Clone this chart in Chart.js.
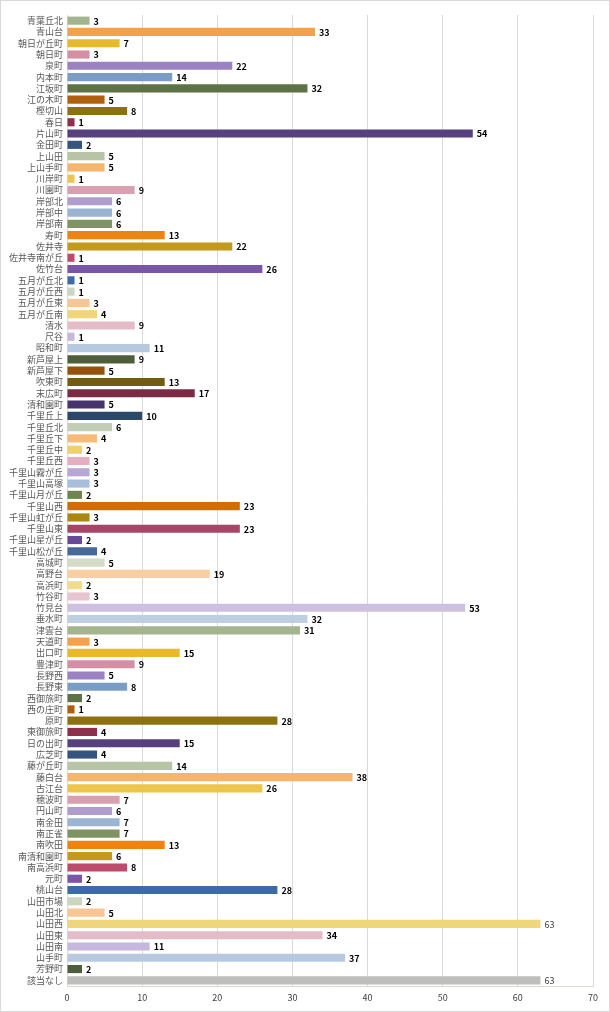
<!DOCTYPE html>
<html>
<head>
<meta charset="utf-8">
<script src="https://cdn.jsdelivr.net/npm/chart.js@4.4.1/dist/chart.umd.min.js"></script>
<style>
  body { margin: 0; background: #fff; }
  #wrap { width: 610px; height: 1012px; box-sizing: border-box; border: 1px solid #d9d9d9; position: relative; }
</style>
</head>
<body>
<div id="wrap"><canvas id="myChart"></canvas></div>
<script>
const towns = ['青葉丘北', '青山台', '朝日が丘町', '朝日町', '泉町', '内本町', '江坂町', '江の木町', '樫切山', '春日',
  '片山町', '金田町', '上山田', '上山手町', '川岸町', '川園町', '岸部北', '岸部中', '岸部南', '寿町',
  '佐井寺', '佐井寺南が丘', '佐竹台', '五月が丘北', '五月が丘西', '五月が丘東', '五月が丘南', '清水', '尺谷', '昭和町',
  '新芦屋上', '新芦屋下', '吹東町', '末広町', '清和園町', '千里丘上', '千里丘北', '千里丘下', '千里丘中', '千里丘西',
  '千里山霧が丘', '千里山高塚', '千里山月が丘', '千里山西', '千里山虹が丘', '千里山東', '千里山星が丘', '千里山松が丘', '高城町', '高野台',
  '高浜町', '竹谷町', '竹見台', '垂水町', '津雲台', '天道町', '出口町', '豊津町', '長野西', '長野東',
  '西御旅町', '西の庄町', '原町', '東御旅町', '日の出町', '広芝町', '藤が丘町', '藤白台', '古江台', '穂波町',
  '円山町', '南金田', '南正雀', '南吹田', '南清和園町', '南高浜町', '元町', '桃山台', '山田市場', '山田北',
  '山田西', '山田東', '山田南', '山手町', '芳野町', '該当なし'];

const counts = [3, 33, 7, 3, 22, 14, 32, 5, 8, 1,
  54, 2, 5, 5, 1, 9, 6, 6, 6, 13,
  22, 1, 26, 1, 1, 3, 4, 9, 1, 11,
  9, 5, 13, 17, 5, 10, 6, 4, 2, 3,
  3, 3, 2, 23, 3, 23, 2, 4, 5, 19,
  2, 3, 53, 32, 31, 3, 15, 9, 5, 8,
  2, 1, 28, 4, 15, 4, 14, 38, 26, 7,
  6, 7, 7, 13, 6, 8, 2, 28, 2, 5,
  63, 34, 11, 37, 2, 63];

const xTicks = [0, 10, 20, 30, 40, 50, 60, 70];

// 6 hues x 9 shades, cycles every 54 bars
const palette = [
  '#a3b48f', '#f5a04a', '#e8b92a', '#d68ea3', '#9b82c2', '#7a9dc6',
  '#5e7248', '#b0600c', '#8c7012', '#8e2f4c', '#56407e', '#35557f',
  '#b8c4a6', '#f7b46c', '#edc54a', '#d9a0b2', '#b09ccd', '#9cb4d4',
  '#7e9462', '#ee8310', '#c49a1a', '#be4a6c', '#7b55a8', '#3f6ba4',
  '#cbd5c0', '#f8c595', '#f0d67a', '#e4bcc8', '#c6b8dc', '#b7c9e0',
  '#4f5e3a', '#97510b', '#735c0e', '#7a2c44', '#48346a', '#2c4868',
  '#c2cdb4', '#f8ba78', '#edd070', '#e2b0c0', '#b8a6d6', '#a8beda',
  '#6e8552', '#ce6e08', '#a88712', '#a54666', '#6a4898', '#46699a',
  '#d2dcc6', '#f9cea0', '#f2db8c', '#e8c4d0', '#cdc0e0', '#bfcfe2'
];
const lastColor = '#bebebe';

const barColors = counts.map((v, i) => i === counts.length - 1 ? lastColor : palette[i % palette.length]);

const valueLabels = {
  id: 'valueLabels',
  afterDatasetsDraw(chart) {
    const c = chart.ctx;
    const meta = chart.getDatasetMeta(0);
    c.save();
    c.textBaseline = 'middle';
    c.textAlign = 'left';
    meta.data.forEach((bar, i) => {
      const v = counts[i];
      const plain = v >= 60;
      c.font = (plain ? '' : 'bold ') + '9px "Noto Sans CJK JP"';
      c.fillStyle = plain ? '#404040' : '#000';
      c.fillText(v, bar.x + 4, bar.y + 0.5);
    });
    c.restore();
  }
};

const ctx = document.getElementById('myChart');

new Chart(ctx, {
  type: 'bar',
  data: {
    labels: towns,
    datasets: [{
      label: '',
      data: counts,
      backgroundColor: barColors,
      borderWidth: 0,
      barPercentage: 0.72,
      categoryPercentage: 1
    }]
  },
  plugins: [valueLabels],
  options: {
    indexAxis: 'y',
    responsive: true,
    maintainAspectRatio: false,
    animation: false,
    layout: { padding: { top: 14, right: 16, left: 0, bottom: 0 } },
    plugins: {
      legend: { display: false },
      tooltip: { enabled: false }
    },
    scales: {
      x: {
        min: 0,
        max: 70,
        afterBuildTicks: scale => { scale.ticks = xTicks.map(v => ({ value: v })); },
        afterFit: scale => { scale.height = 25; },
        grid: { color: '#d9d9d9', drawTicks: false },
        border: { color: '#d6dfc9' },
        ticks: {
          color: '#404040',
          padding: 6,
          font: { family: '"Noto Sans CJK JP"', size: 9 }
        }
      },
      y: {
        afterFit: scale => { scale.width = 66; },
        grid: { display: false, drawTicks: false },
        border: { display: false },
        ticks: {
          autoSkip: false,
          color: '#595959',
          padding: 4,
          font: { family: '"Noto Sans CJK JP"', size: 9 }
        }
      }
    }
  }
});
</script>
</body>
</html>
